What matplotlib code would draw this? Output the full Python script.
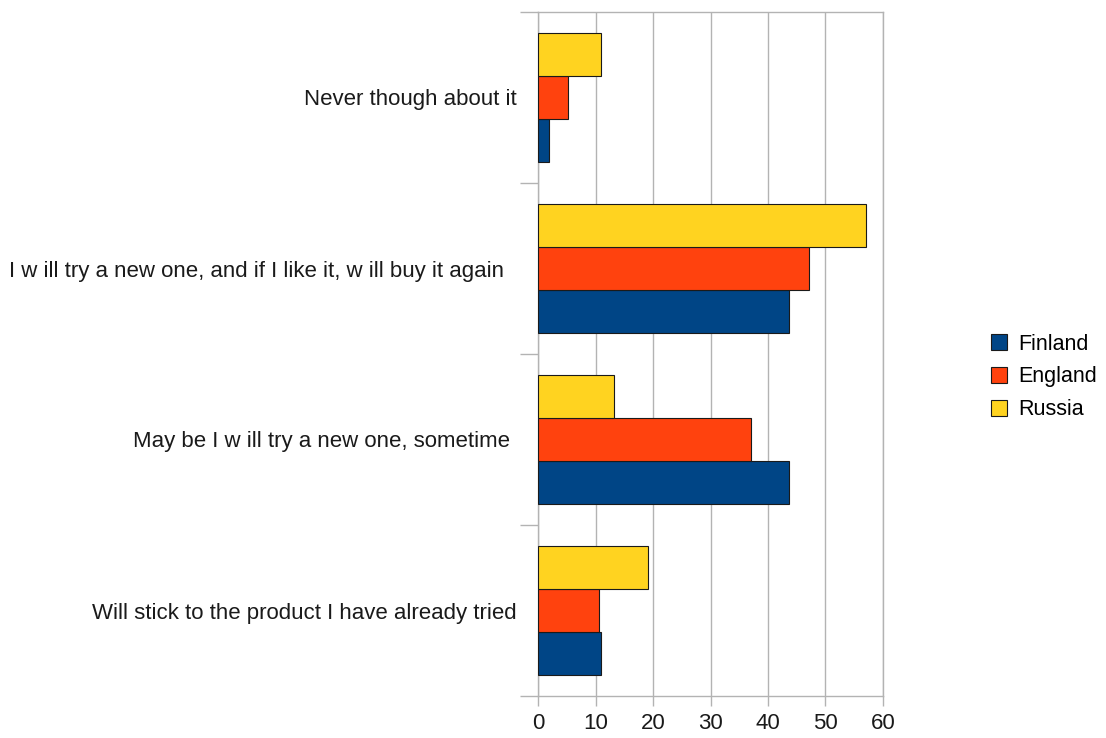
import matplotlib
matplotlib.use("Agg")
import matplotlib.pyplot as plt
import numpy as np

plt.rcParams['font.family'] = ['Liberation Sans', 'DejaVu Sans']

categories = ["Will stick to the product I have already tried",
              "May be I w ill try a new one, sometime ",
              "I w ill try a new one, and if I like it, w ill buy it again  ",
              "Never though about it"]
finland = [11.0, 43.6, 43.6, 1.9]
england = [10.6, 37.0, 47.2, 5.2]
russia = [19.1, 13.2, 57.1, 11.0]
series = [("Finland", finland, "#004586"),
          ("England", england, "#ff420e"),
          ("Russia", russia, "#ffd320")]
xticks = [0, 10, 20, 30, 40, 50, 60]

fig = plt.figure(figsize=(11.06, 7.38), dpi=100)
ax = fig.add_axes([538/1106, 1-696/738, (883-538)/1106, (696-12)/738])

y = np.arange(len(categories))
h = 0.25
offsets = [-h, 0, h]
handles = []
for (name, vals, col), off in zip(series, offsets):
    b = ax.barh(y + off, vals, height=h, color=col, edgecolor="#1a1a1a",
                linewidth=0.8, label=name, zorder=3)
    handles.append(b)

ax.set_xlim(0, 60)
ax.set_ylim(-0.5, len(categories) - 0.5)
ax.set_xticks(xticks)
ax.set_xticklabels([str(v) for v in xticks], fontsize=16)
ax.xaxis.grid(True, color="#b3b3b3", linewidth=1, zorder=0)
ax.set_axisbelow(True)

# category boundaries as ticks
ax.set_yticks(np.arange(-0.5, len(categories), 1.0))
ax.set_yticklabels([])
ax.set_yticks(y, minor=True)
ax.set_yticklabels(categories, minor=True, fontsize=16)
ax.tick_params(axis='y', which='minor', length=0, pad=15.5)
ax.tick_params(axis='y', which='major', length=13, color="#b3b3b3", width=1)
ax.tick_params(axis='x', length=7, color="#b3b3b3", width=1, pad=5, labelcolor="#1a1a1a")
ax.tick_params(axis='y', which='both', labelcolor="#1a1a1a")

for s in ["top", "right", "bottom", "left"]:
    ax.spines[s].set_color("#b3b3b3")
    ax.spines[s].set_linewidth(1)

leg = fig.legend(handles=handles, labels=[s[0] for s in series],
                 loc="center left", bbox_to_anchor=(991/1106, 1-377/738),
                 frameon=False, fontsize=15.5, handlelength=0.75,
                 handleheight=0.75, handletextpad=0.5, labelspacing=0.55,
                 borderaxespad=0, borderpad=0)

fig.savefig("out.png", dpi=100)
